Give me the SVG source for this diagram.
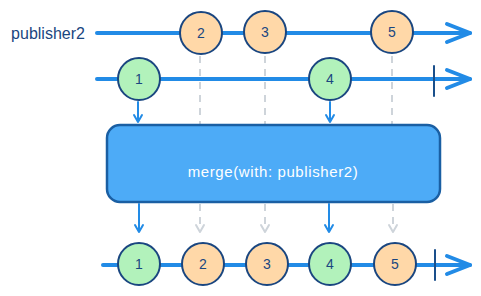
<svg xmlns="http://www.w3.org/2000/svg" width="481" height="296" viewBox="0 0 481 296">
<defs>
<style>
.tl{stroke:#228be6;stroke-width:4;fill:none;stroke-linecap:round;stroke-linejoin:round}
.ah{stroke:#228be6;stroke-width:4;fill:none;stroke-linecap:round;stroke-linejoin:round}
.bar{stroke:#1a4f8b;stroke-width:2;stroke-linecap:round}
.c{stroke:#1a4680;stroke-width:2}
.or{fill:#ffd8a8}
.gr{fill:#b2f2bb}
.n{font-family:"Liberation Sans",Arial,sans-serif;font-size:14px;fill:#1a4680;text-anchor:middle;dominant-baseline:central}
.dash{stroke:#ced4da;stroke-width:2;stroke-dasharray:7 6;fill:none}
.ga{stroke:#ced4da;stroke-width:2;fill:none;stroke-linecap:round;stroke-linejoin:round}
.ba{stroke:#228be6;stroke-width:2;fill:none;stroke-linecap:round;stroke-linejoin:round}
</style>
</defs>
<g id="label-publisher2">
<text x="48" y="33" class="n" style="font-size:16px">publisher2</text>
</g>
<g id="connectors">
<path class="dash" d="M200 56 V125"/>
<path class="dash" d="M265 56 V125"/>
<path class="dash" d="M392 56 V125"/>
<path class="ba" d="M138 102 V122 M134 115 L138 122 L142 115"/>
<path class="ba" d="M330 102 V122 M326 115 L330 122 L334 115"/>
<path class="ba" d="M139 204 V232 M135 225 L139 232 L143 225"/>
<path class="ba" d="M329 204 V232 M325 225 L329 232 L333 225"/>
<path class="dash" d="M200 204 V232"/>
<path class="ga" d="M196 225 L200 232 L204 225"/>
<path class="dash" d="M265 204 V232"/>
<path class="ga" d="M261 225 L265 232 L269 225"/>
<path class="dash" d="M393 204 V232"/>
<path class="ga" d="M389 225 L393 232 L397 225"/>
</g>
<g id="timeline-publisher2">
<path class="tl" d="M97 33 H470"/>
<path class="ah" d="M447 24 L470 33 L447 42"/>
</g>
<g id="timeline-publisher1">
<path class="tl" d="M97 79 H470"/>
<path class="ah" d="M447 70 L470 79 L447 88"/>
<path class="bar" d="M434 66 V96"/>
</g>
<g id="timeline-output">
<path class="tl" d="M103 265 H470"/>
<path class="ah" d="M447 256 L470 265 L447 274"/>
<path class="bar" d="M435 250 V280"/>
</g>
<g id="p2-2"><circle class="c or" cx="201" cy="33" r="21"/><text class="n" x="201" y="33">2</text></g>
<g id="p2-3"><circle class="c or" cx="265" cy="32" r="21"/><text class="n" x="265" y="32">3</text></g>
<g id="p2-5"><circle class="c or" cx="392" cy="32" r="21"/><text class="n" x="392" y="32">5</text></g>
<g id="p1-1"><circle class="c gr" cx="139" cy="79" r="21"/><text class="n" x="139" y="79">1</text></g>
<g id="p1-4"><circle class="c gr" cx="330" cy="79" r="21"/><text class="n" x="330" y="79">4</text></g>
<g id="merge">
<rect x="107" y="125" width="333" height="77" rx="13" fill="#4dabf7" stroke="#1a5fa3" stroke-width="2.5"/>
<text x="273" y="171" style="font-family:'Liberation Sans',Arial,sans-serif;font-size:15px;letter-spacing:0.6px;fill:#ffffff;text-anchor:middle;dominant-baseline:central">merge(with: publisher2)</text>
</g>
<g id="out-1"><circle class="c gr" cx="139" cy="264" r="21"/><text class="n" x="139" y="264">1</text></g>
<g id="out-2"><circle class="c or" cx="203" cy="264" r="21"/><text class="n" x="203" y="264">2</text></g>
<g id="out-3"><circle class="c or" cx="267" cy="264" r="21"/><text class="n" x="267" y="264">3</text></g>
<g id="out-4"><circle class="c gr" cx="330" cy="264" r="21"/><text class="n" x="330" y="264">4</text></g>
<g id="out-5"><circle class="c or" cx="395" cy="264" r="21"/><text class="n" x="395" y="264">5</text></g>
</svg>
